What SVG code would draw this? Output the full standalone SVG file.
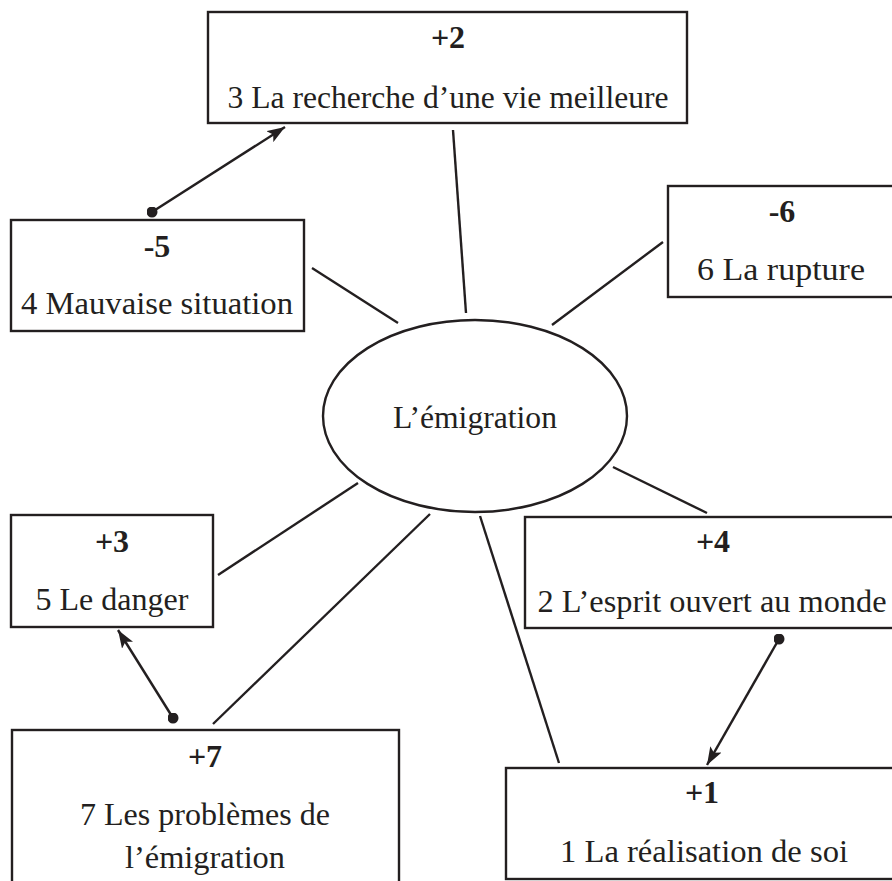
<svg xmlns="http://www.w3.org/2000/svg" width="892" height="881" viewBox="0 0 892 881">
<style>
.box{fill:#fff;stroke:#231f20;stroke-width:2.4}
text{font-family:'Liberation Serif','Times New Roman','DejaVu Serif',serif;font-size:32.5px;fill:#231f20;text-anchor:middle}
.num{font-weight:bold;font-size:32px}
.ln{stroke:#231f20;stroke-width:2.4;fill:none}
</style>
<defs>
<marker id="arrow" viewBox="0 0 18 13" refX="18" refY="6.5" markerWidth="18" markerHeight="13" orient="auto" markerUnits="userSpaceOnUse"><path d="M0,0 L18,6.5 L0,13 L4,6.5 z" fill="#231f20"/></marker>
<marker id="dot" viewBox="0 0 10 10" refX="5" refY="5" markerWidth="11" markerHeight="11" markerUnits="userSpaceOnUse"><circle cx="5" cy="5" r="5" fill="#231f20"/></marker>
</defs>
<rect width="892" height="881" fill="#fff"/>
<g id="connectors">
<line class="ln" x1="453" y1="130" x2="466" y2="313"/>
<line class="ln" x1="312" y1="268" x2="398" y2="323"/>
<line class="ln" x1="663" y1="242" x2="552" y2="325"/>
<line class="ln" x1="358" y1="483" x2="218" y2="575"/>
<line class="ln" x1="430" y1="514" x2="213" y2="724"/>
<line class="ln" x1="480" y1="516" x2="559" y2="763"/>
<line class="ln" x1="613" y1="467" x2="707" y2="513"/>
<path class="ln" d="M152,212 L285,127" marker-start="url(#dot)" marker-end="url(#arrow)"/>
<path class="ln" d="M173,718 L118,630" marker-start="url(#dot)" marker-end="url(#arrow)"/>
<path class="ln" d="M779,639 L707,765" marker-start="url(#dot)" marker-end="url(#arrow)"/>
</g>
<g id="center">
<ellipse class="box" cx="475" cy="416" rx="152" ry="96"/>
<text x="475" y="428" textLength="164" lengthAdjust="spacingAndGlyphs">L’émigration</text>
</g>
<g id="n3">
<rect class="box" x="208" y="12" width="479" height="111"/>
<text class="num" x="448" y="48">+2</text>
<text x="448" y="108" textLength="441" lengthAdjust="spacingAndGlyphs">3 La recherche d’une vie meilleure</text>
</g>
<g id="n4">
<rect class="box" x="11" y="220" width="293" height="111"/>
<text class="num" x="157" y="257">-5</text>
<text x="157" y="314" textLength="272" lengthAdjust="spacingAndGlyphs">4 Mauvaise situation</text>
</g>
<g id="n6">
<rect class="box" x="668" y="186" width="240" height="111"/>
<text class="num" x="782" y="222">-6</text>
<text x="781" y="280" textLength="168" lengthAdjust="spacingAndGlyphs">6 La rupture</text>
</g>
<g id="n5">
<rect class="box" x="11" y="515" width="202" height="112"/>
<text class="num" x="112" y="552">+3</text>
<text x="112" y="610" textLength="153" lengthAdjust="spacingAndGlyphs">5 Le danger</text>
</g>
<g id="n2">
<rect class="box" x="525" y="517" width="380" height="111"/>
<text class="num" x="713" y="552">+4</text>
<text x="712" y="612" textLength="349" lengthAdjust="spacingAndGlyphs">2 L’esprit ouvert au monde</text>
</g>
<g id="n7">
<rect class="box" x="12" y="730" width="387" height="170"/>
<text class="num" x="205" y="767">+7</text>
<text x="205" y="825" textLength="250" lengthAdjust="spacingAndGlyphs">7 Les problèmes de</text>
<text x="205" y="868" textLength="160" lengthAdjust="spacingAndGlyphs">l’émigration</text>
</g>
<g id="n1">
<rect class="box" x="506" y="768" width="400" height="111"/>
<text class="num" x="702" y="803">+1</text>
<text x="704" y="862" textLength="288" lengthAdjust="spacingAndGlyphs">1 La réalisation de soi</text>
</g>
</svg>
